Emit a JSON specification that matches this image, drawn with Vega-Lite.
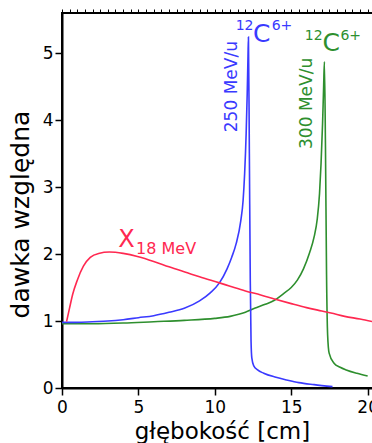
{
  "$schema": "https://vega.github.io/schema/vega-lite/v6.json",
  "width": 311,
  "height": 375,
  "autosize": {"type": "none"},
  "padding": {"left": 62, "top": 13, "right": 0, "bottom": 55},
  "background": "white",
  "config": {
    "font": "DejaVu Sans",
    "view": {"stroke": "black", "strokeWidth": 2},
    "axis": {
      "domainColor": "black",
      "domainWidth": 2,
      "tickColor": "black",
      "tickWidth": 1.5,
      "labelColor": "black",
      "titleColor": "black",
      "labelFont": "DejaVu Sans",
      "titleFont": "DejaVu Sans",
      "labelFontSize": 17,
      "grid": false,
      "labelOverlap": false,
      "labelFlush": false
    }
  },
  "datasets": {
    "curves": [
      {"series": "green", "depth": 0, "dose": 0.96},
      {"series": "green", "depth": 2, "dose": 0.96},
      {"series": "green", "depth": 4, "dose": 0.97},
      {"series": "green", "depth": 6, "dose": 0.99},
      {"series": "green", "depth": 8, "dose": 1.01},
      {"series": "green", "depth": 10, "dose": 1.04},
      {"series": "green", "depth": 11, "dose": 1.07},
      {"series": "green", "depth": 12, "dose": 1.13},
      {"series": "green", "depth": 12.6, "dose": 1.19},
      {"series": "green", "depth": 13.3, "dose": 1.25},
      {"series": "green", "depth": 13.9, "dose": 1.31},
      {"series": "green", "depth": 14.5, "dose": 1.41},
      {"series": "green", "depth": 15, "dose": 1.5},
      {"series": "green", "depth": 15.4, "dose": 1.61},
      {"series": "green", "depth": 15.8, "dose": 1.78},
      {"series": "green", "depth": 16.2, "dose": 2.02},
      {"series": "green", "depth": 16.5, "dose": 2.26},
      {"series": "green", "depth": 16.7, "dose": 2.52},
      {"series": "green", "depth": 16.85, "dose": 2.9},
      {"series": "green", "depth": 16.95, "dose": 3.35},
      {"series": "green", "depth": 17.05, "dose": 3.95},
      {"series": "green", "depth": 17.12, "dose": 4.5},
      {"series": "green", "depth": 17.17, "dose": 4.87},
      {"series": "green", "depth": 17.24, "dose": 3.6},
      {"series": "green", "depth": 17.31, "dose": 1.7},
      {"series": "green", "depth": 17.38, "dose": 0.8},
      {"series": "green", "depth": 17.48, "dose": 0.52},
      {"series": "green", "depth": 17.8, "dose": 0.37},
      {"series": "green", "depth": 18.2, "dose": 0.31},
      {"series": "green", "depth": 18.6, "dose": 0.27},
      {"series": "green", "depth": 19.3, "dose": 0.22},
      {"series": "green", "depth": 20, "dose": 0.18},
      {"series": "blue", "depth": 0, "dose": 0.98},
      {"series": "blue", "depth": 1, "dose": 0.98},
      {"series": "blue", "depth": 2, "dose": 0.99},
      {"series": "blue", "depth": 3, "dose": 1.0},
      {"series": "blue", "depth": 4, "dose": 1.02},
      {"series": "blue", "depth": 5, "dose": 1.05},
      {"series": "blue", "depth": 6, "dose": 1.08},
      {"series": "blue", "depth": 7, "dose": 1.13},
      {"series": "blue", "depth": 8, "dose": 1.19},
      {"series": "blue", "depth": 9, "dose": 1.3},
      {"series": "blue", "depth": 9.7, "dose": 1.42},
      {"series": "blue", "depth": 10.3, "dose": 1.57},
      {"series": "blue", "depth": 10.8, "dose": 1.78},
      {"series": "blue", "depth": 11.1, "dose": 1.95},
      {"series": "blue", "depth": 11.4, "dose": 2.16},
      {"series": "blue", "depth": 11.7, "dose": 2.5},
      {"series": "blue", "depth": 11.85, "dose": 2.8},
      {"series": "blue", "depth": 11.95, "dose": 3.2},
      {"series": "blue", "depth": 12.05, "dose": 3.8},
      {"series": "blue", "depth": 12.12, "dose": 4.4},
      {"series": "blue", "depth": 12.17, "dose": 4.95},
      {"series": "blue", "depth": 12.2, "dose": 5.24},
      {"series": "blue", "depth": 12.26, "dose": 3.5},
      {"series": "blue", "depth": 12.32, "dose": 1.6},
      {"series": "blue", "depth": 12.37, "dose": 0.7},
      {"series": "blue", "depth": 12.42, "dose": 0.45},
      {"series": "blue", "depth": 12.55, "dose": 0.33},
      {"series": "blue", "depth": 12.8, "dose": 0.27},
      {"series": "blue", "depth": 13.2, "dose": 0.22},
      {"series": "blue", "depth": 14, "dose": 0.16},
      {"series": "blue", "depth": 14.7, "dose": 0.12},
      {"series": "blue", "depth": 15.5, "dose": 0.08},
      {"series": "blue", "depth": 16.5, "dose": 0.05},
      {"series": "blue", "depth": 17.7, "dose": 0.02},
      {"series": "red", "depth": 0.3, "dose": 0.99},
      {"series": "red", "depth": 0.5, "dose": 1.2},
      {"series": "red", "depth": 0.7, "dose": 1.4},
      {"series": "red", "depth": 1.0, "dose": 1.61},
      {"series": "red", "depth": 1.4, "dose": 1.82},
      {"series": "red", "depth": 1.85, "dose": 1.95},
      {"series": "red", "depth": 2.4, "dose": 2.01},
      {"series": "red", "depth": 3.1, "dose": 2.03},
      {"series": "red", "depth": 4, "dose": 2.01},
      {"series": "red", "depth": 5, "dose": 1.96},
      {"series": "red", "depth": 6, "dose": 1.89},
      {"series": "red", "depth": 7, "dose": 1.81},
      {"series": "red", "depth": 8.2, "dose": 1.72},
      {"series": "red", "depth": 9, "dose": 1.66},
      {"series": "red", "depth": 10.3, "dose": 1.57},
      {"series": "red", "depth": 11, "dose": 1.52},
      {"series": "red", "depth": 12, "dose": 1.45},
      {"series": "red", "depth": 13, "dose": 1.39},
      {"series": "red", "depth": 13.9, "dose": 1.33},
      {"series": "red", "depth": 15, "dose": 1.26},
      {"series": "red", "depth": 16, "dose": 1.2},
      {"series": "red", "depth": 17, "dose": 1.15},
      {"series": "red", "depth": 17.6, "dose": 1.12},
      {"series": "red", "depth": 18.5, "dose": 1.07},
      {"series": "red", "depth": 19.5, "dose": 1.03},
      {"series": "red", "depth": 20.35, "dose": 0.99}
    ]
  },
  "layer": [
    {
      "data": {"name": "curves"},
      "mark": {"type": "line", "strokeWidth": 1.6, "interpolate": "monotone", "clip": true},
      "encoding": {
        "x": {
          "field": "depth", "type": "quantitative",
          "scale": {"domain": [0, 20.35], "nice": false, "zero": false},
          "axis": {
            "values": [0, 5, 10, 15, 20],
            "title": "głębokość [cm]",
            "titleFontSize": 23,
            "titleFontWeight": "normal",
            "titleX": 160,
            "titleY": 50,
            "titleBaseline": "alphabetic",
            "tickSize": 7,
            "labelPadding": 4
          }
        },
        "y": {
          "field": "dose", "type": "quantitative",
          "scale": {"domain": [0, 5.6], "nice": false},
          "axis": {
            "values": [0, 1, 2, 3, 4, 5],
            "title": "dawka względna",
            "titleFontSize": 25,
            "titleFontWeight": "normal",
            "titleX": -29,
            "titleY": 201,
            "tickSize": 7,
            "labelPadding": 2
          }
        },
        "color": {
          "field": "series", "type": "nominal",
          "scale": {"domain": ["green", "blue", "red"], "range": ["#2e8f2e", "#3a3aff", "#ff2850"]},
          "legend": null
        }
      }
    },
    {
      "data": {"name": "curves"},
      "mark": {"type": "point", "opacity": 0},
      "encoding": {
        "x": {
          "field": "depth", "type": "quantitative",
          "axis": {
            "values": [0, 0.5, 1, 1.5, 2, 2.5, 3, 3.5, 4, 4.5, 5, 5.5, 6, 6.5, 7, 7.5, 8, 8.5, 9, 9.5, 10, 10.5, 11, 11.5, 12, 12.5, 13, 13.5, 14, 14.5, 15, 15.5, 16, 16.5, 17, 17.5, 18, 18.5, 19, 19.5, 20],
            "labels": false, "title": null, "domain": false, "tickSize": 4, "tickWidth": 1
          }
        },
        "y": {
          "field": "dose", "type": "quantitative",
          "axis": {
            "values": [0, 0.1, 0.2, 0.3, 0.4, 0.5, 0.6, 0.7, 0.8, 0.9, 1, 1.1, 1.2, 1.3, 1.4, 1.5, 1.6, 1.7, 1.8, 1.9, 2, 2.1, 2.2, 2.3, 2.4, 2.5, 2.6, 2.7, 2.8, 2.9, 3, 3.1, 3.2, 3.3, 3.4, 3.5, 3.6, 3.7, 3.8, 3.9, 4, 4.1, 4.2, 4.3, 4.4, 4.5, 4.6, 4.7, 4.8, 4.9, 5, 5.1, 5.2, 5.3, 5.4, 5.5],
            "labels": false, "title": null, "domain": false, "tickSize": 4, "tickWidth": 1
          }
        }
      }
    },
    {
      "data": {"values": [
        {"series": "blue", "depth": 12.5, "dose": 5.16, "text": "C"},
        {"series": "green", "depth": 17.05, "dose": 5.04, "text": "C"}
      ]},
      "mark": {"type": "text", "fontSize": 25, "align": "left", "baseline": "alphabetic"},
      "encoding": {
        "x": {"field": "depth", "type": "quantitative", "axis": null},
        "y": {"field": "dose", "type": "quantitative", "axis": null},
        "text": {"field": "text"},
        "color": {"field": "series", "type": "nominal", "legend": null}
      }
    },
    {
      "data": {"values": [
        {"series": "blue", "depth": 12.53, "dose": 5.34, "text": "12"},
        {"series": "green", "depth": 17.05, "dose": 5.19, "text": "12"}
      ]},
      "mark": {"type": "text", "fontSize": 14, "align": "right", "baseline": "alphabetic"},
      "encoding": {
        "x": {"field": "depth", "type": "quantitative", "axis": null},
        "y": {"field": "dose", "type": "quantitative", "axis": null},
        "text": {"field": "text"},
        "color": {"field": "series", "type": "nominal", "legend": null}
      }
    },
    {
      "data": {"values": [
        {"series": "blue", "depth": 13.72, "dose": 5.34, "text": "6+"},
        {"series": "green", "depth": 18.22, "dose": 5.19, "text": "6+"}
      ]},
      "mark": {"type": "text", "fontSize": 14, "align": "left", "baseline": "alphabetic"},
      "encoding": {
        "x": {"field": "depth", "type": "quantitative", "axis": null},
        "y": {"field": "dose", "type": "quantitative", "axis": null},
        "text": {"field": "text"},
        "color": {"field": "series", "type": "nominal", "legend": null}
      }
    },
    {
      "data": {"values": [
        {"series": "blue", "depth": 11.15, "dose": 4.5, "text": "250 MeV/u"},
        {"series": "green", "depth": 16.05, "dose": 4.25, "text": "300 MeV/u"}
      ]},
      "mark": {"type": "text", "fontSize": 17, "angle": 270, "align": "center", "baseline": "middle"},
      "encoding": {
        "x": {"field": "depth", "type": "quantitative", "axis": null},
        "y": {"field": "dose", "type": "quantitative", "axis": null},
        "text": {"field": "text"},
        "color": {"field": "series", "type": "nominal", "legend": null}
      }
    },
    {
      "data": {"values": [
        {"series": "red", "depth": 3.68, "dose": 2.1, "text": "X"}
      ]},
      "mark": {"type": "text", "fontSize": 24, "align": "left", "baseline": "alphabetic"},
      "encoding": {
        "x": {"field": "depth", "type": "quantitative", "axis": null},
        "y": {"field": "dose", "type": "quantitative", "axis": null},
        "text": {"field": "text"},
        "color": {"field": "series", "type": "nominal", "legend": null}
      }
    },
    {
      "data": {"values": [
        {"series": "red", "depth": 4.85, "dose": 2.0, "text": "18 MeV"}
      ]},
      "mark": {"type": "text", "fontSize": 16, "align": "left", "baseline": "alphabetic"},
      "encoding": {
        "x": {"field": "depth", "type": "quantitative", "axis": null},
        "y": {"field": "dose", "type": "quantitative", "axis": null},
        "text": {"field": "text"},
        "color": {"field": "series", "type": "nominal", "legend": null}
      }
    }
  ],
  "resolve": {"axis": {"x": "independent", "y": "independent"}}
}
